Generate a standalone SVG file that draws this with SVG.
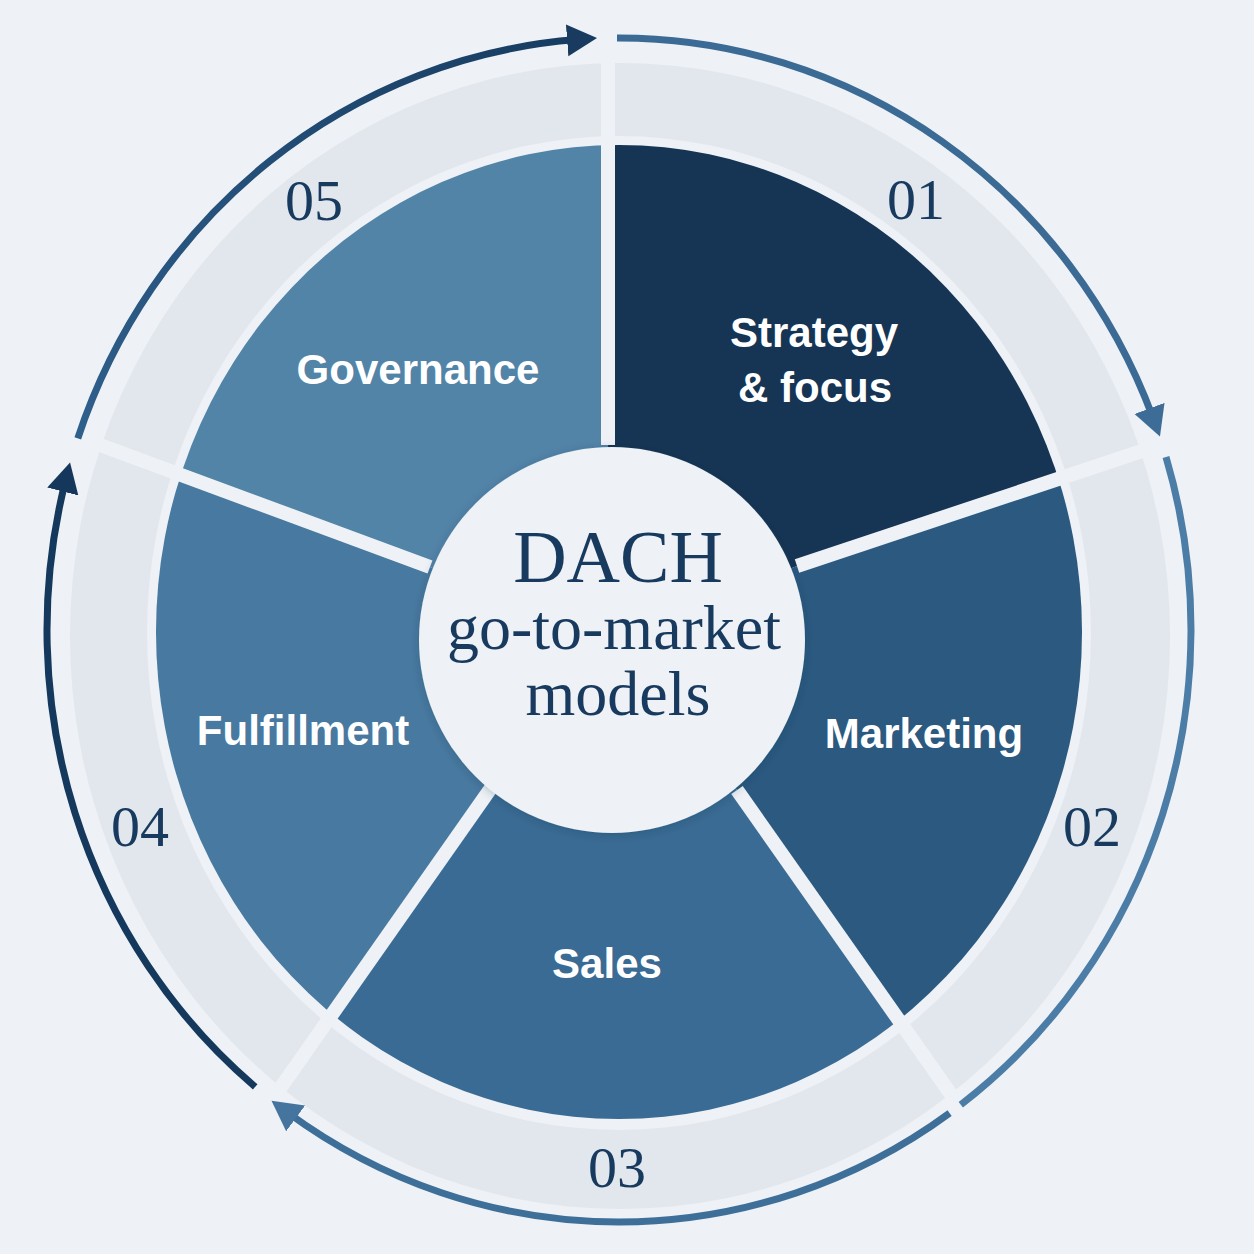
<svg xmlns="http://www.w3.org/2000/svg" width="1254" height="1254" viewBox="0 0 1254 1254">
<defs>
<style>
.bg{fill:#eef1f5}
.ring{fill:#e2e7ee;fill-rule:evenodd}
.lbl{font-family:"Liberation Sans",Arial,sans-serif;font-weight:700;font-size:42px;fill:#ffffff;text-anchor:middle}
.num{font-family:"Liberation Serif","Times New Roman",serif;font-size:58px;fill:#173a5e;text-anchor:middle}
.title{font-family:"Liberation Serif","Times New Roman",serif;fill:#173a5e;text-anchor:middle}
.sep{stroke:#eef2f6;stroke-width:14;fill:none}
.arc{fill:none;stroke-width:7}
</style>
<clipPath id="pieClip"><ellipse cx="619" cy="632" rx="463" ry="487"/></clipPath>
<linearGradient id="g5" gradientUnits="userSpaceOnUse" x1="77" y1="438" x2="577" y2="40">
<stop offset="0" stop-color="#2f5f8b"/><stop offset="1" stop-color="#173c61"/>
</linearGradient>
<filter id="sh" x="-20%" y="-20%" width="140%" height="140%">
<feDropShadow dx="0" dy="2" stdDeviation="4" flood-color="#0d2a45" flood-opacity="0.25"/>
</filter>
<marker id="m1" markerUnits="userSpaceOnUse" markerWidth="40" markerHeight="40" refX="10" refY="16" orient="auto"><path d="M0,0 L30,16 L0,32 Z" fill="#3d6d97"/></marker>
<marker id="m3" markerUnits="userSpaceOnUse" markerWidth="40" markerHeight="40" refX="10" refY="16" orient="auto"><path d="M0,0 L30,16 L0,32 Z" fill="#45759f"/></marker>
<marker id="m4" markerUnits="userSpaceOnUse" markerWidth="40" markerHeight="40" refX="10" refY="16" orient="auto"><path d="M0,0 L30,16 L0,32 Z" fill="#14375b"/></marker>
<marker id="m5" markerUnits="userSpaceOnUse" markerWidth="40" markerHeight="40" refX="10" refY="16" orient="auto"><path d="M0,0 L30,16 L0,32 Z" fill="#183b5f"/></marker>
</defs>
<rect class="bg" x="0" y="0" width="1254" height="1254"/>
<path class="ring" d="M70,636 A550,573 0 1,0 1170,636 A550,573 0 1,0 70,636 Z M147,633 A472,497 0 1,0 1091,633 A472,497 0 1,0 147,633 Z"/>
<g clip-path="url(#pieClip)">
<g id="node-strategy-shape"><path d="M608,445 L608,-255 L1461,345 L797,566 L612,640 Z" fill="#163554"/></g>
<g id="node-marketing-shape"><path d="M797,566 L1461,345 L1140,1363 L737,790 L612,640 Z" fill="#2b5980"/></g>
<g id="node-sales-shape"><path d="M737,790 L1140,1363 L88,1360 L491,788 L612,640 Z" fill="#3a6b94"/></g>
<g id="node-fulfillment-shape"><path d="M491,788 L88,1360 L-226,324 L430,567 L612,640 Z" fill="#4879a0"/></g>
<g id="node-governance-shape"><path d="M430,567 L-226,324 L608,-255 L608,445 L612,640 Z" fill="#5284a8"/></g>
</g>
<g id="separators">
<line class="sep" x1="608" y1="445" x2="608" y2="50"/>
<line class="sep" x1="797" y1="566" x2="1160" y2="445"/>
<line class="sep" x1="737" y1="790" x2="962" y2="1110"/>
<line class="sep" x1="491" y1="788" x2="272" y2="1100"/>
<line class="sep" x1="430" y1="567" x2="65" y2="432"/>
</g>
<g id="center">
<circle cx="612" cy="640" r="193" fill="#eef1f5" filter="url(#sh)"/>
<text class="title" x="618" y="582" font-size="74">DACH</text>
<text class="title" x="614" y="649" font-size="64">go-to-market</text>
<text class="title" x="618" y="715" font-size="64">models</text>
</g>
<g id="node-strategy">
<text class="lbl" x="814" y="347">Strategy</text>
<text class="lbl" x="815" y="402">&amp; focus</text>
<text class="num" x="916" y="219">01</text>
</g>
<g id="node-marketing">
<text class="lbl" x="924" y="748">Marketing</text>
<text class="num" x="1092" y="846">02</text>
</g>
<g id="node-sales">
<text class="lbl" x="607" y="978">Sales</text>
<text class="num" x="617" y="1187">03</text>
</g>
<g id="node-fulfillment">
<text class="lbl" x="303" y="745">Fulfillment</text>
<text class="num" x="140" y="846">04</text>
</g>
<g id="node-governance">
<text class="lbl" x="418" y="384">Governance</text>
<text class="num" x="314" y="220">05</text>
</g>
<g id="connectors">
<path class="arc" stroke="#3b6b95" marker-end="url(#m1)" d="M617,38 A572,592 0 0,1 1153.0,417.8"/>
<path class="arc" stroke="#4b7da7" d="M1166.0,456.9 A572,592 0 0,1 960.8,1104.7"/>
<path class="arc" stroke="#3e6f99" marker-end="url(#m3)" d="M949.6,1113.1 A572,592 0 0,1 287.6,1112.5"/>
<path class="arc" stroke="#15395d" marker-end="url(#m4)" d="M255.2,1086.8 A572,592 0 0,1 65.2,481.8"/>
<path class="arc" stroke="url(#g5)" marker-end="url(#m5)" d="M77.8,438.3 A572,592 0 0,1 577.1,39.6"/>
</g>
</svg>
